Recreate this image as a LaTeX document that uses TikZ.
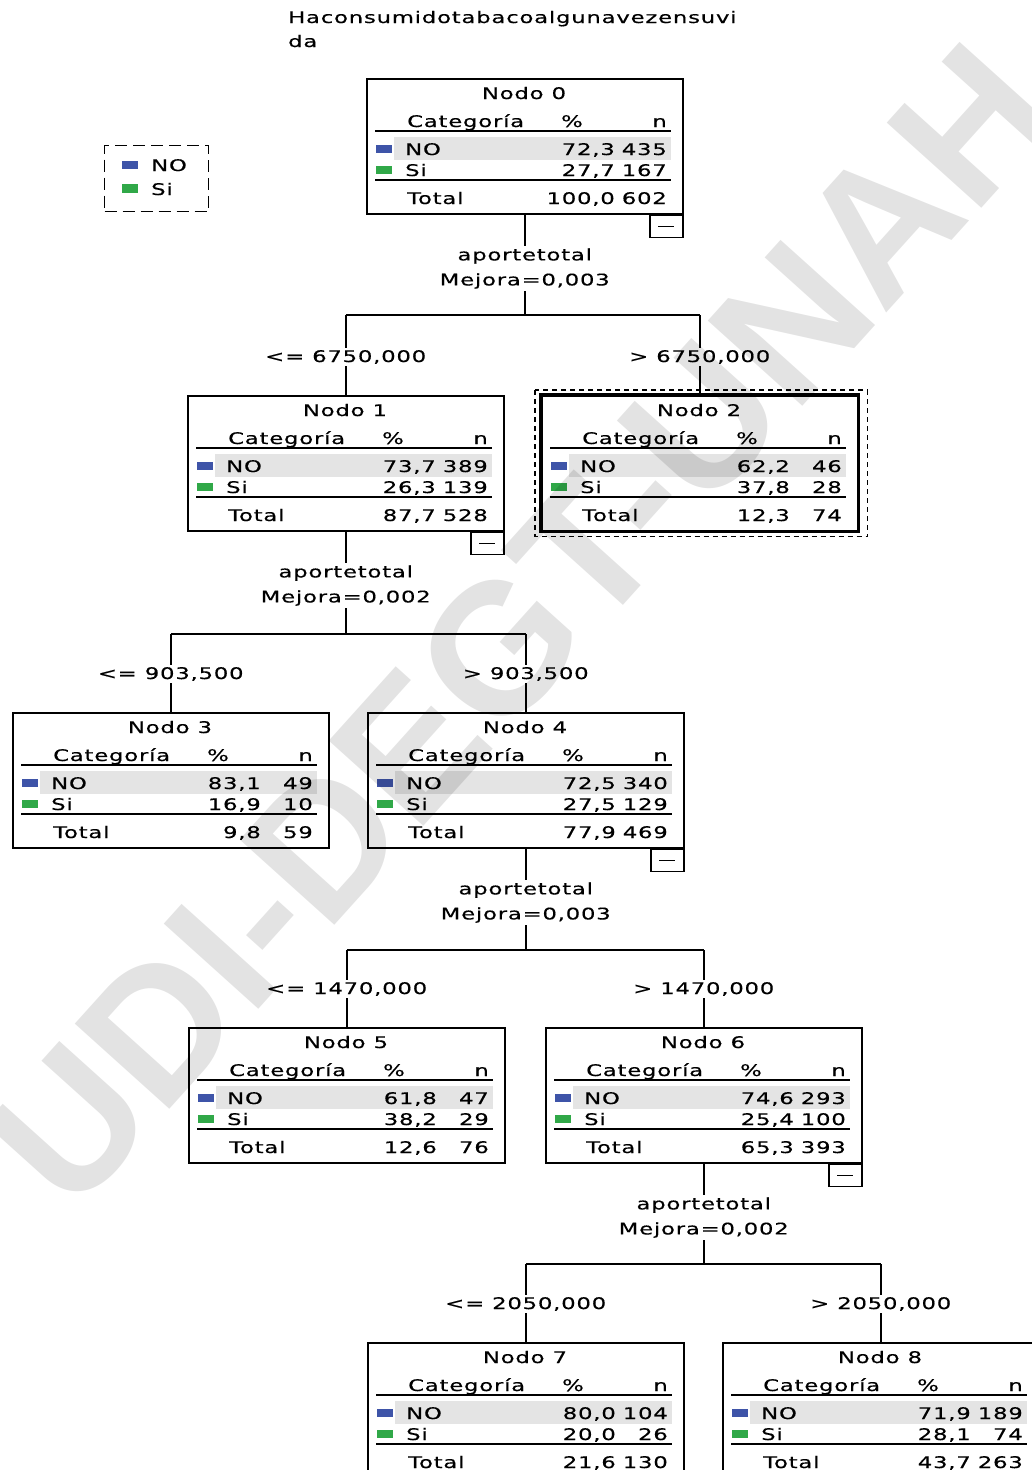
\documentclass[tikz,border=0pt]{standalone}
\usepackage{fontspec}
\setmainfont{DejaVu Sans}[FakeStretch=1.42,LetterSpace=5,FakeBold=0.4]
\newfontfamily\wmfont{Liberation Sans}
\definecolor{spssblue}{RGB}{62,84,168}
\definecolor{spssgreen}{RGB}{48,168,72}
\definecolor{rowgray}{RGB}{228,228,228}
\tikzset{
  txt/.style={inner sep=0pt,font=\fontsize{16}{19}\selectfont},
  boxstyle/.style={draw,line width=1.5pt,minimum width=316pt,minimum height=135pt,inner sep=0pt,anchor=north west},
  rulel/.style={line width=1.3pt},
  conn/.style={line width=1.5pt},
  lbl/.style={txt,fill=white,inner sep=2pt},
  splitlbl/.style={fill=white,inner sep=2pt,align=center,font=\fontsize{16}{25}\selectfont},
  collapse/.style={draw,line width=1.5pt,minimum width=33pt,minimum height=22pt,inner sep=0pt,anchor=north east},
}
\newcommand\treebox[9]{%
  \node[boxstyle] (#1) at #2 {};
  \begin{scope}[shift={#2}]
    \fill[rowgray] (28,59) rectangle (305,82);
    \node[txt,anchor=base] (#1t) at (158,21) {Nodo #3};
    \node[txt,anchor=base west] (#1h) at (41,49) {Categoría};
    \node[txt,anchor=base] (#1p) at (206,49) {\%};
    \node[txt,anchor=base east] (#1n) at (301,49) {n};
    \draw[rulel] (9,53) -- (305,53);
    \fill[spssblue] (10,67) rectangle (26,75);
    \node[txt,anchor=base west] (#1a) at (39,77) {NO};
    \node[txt,anchor=base east] (#1ap) at (249,77) {#4};
    \node[txt,anchor=base east] (#1an) at (301,77) {#5};
    \fill[spssgreen] (10,88) rectangle (26,96);
    \node[txt,anchor=base west] (#1b) at (39,98) {Si};
    \node[txt,anchor=base east] (#1bp) at (249,98) {#6};
    \node[txt,anchor=base east] (#1bn) at (301,98) {#7};
    \draw[rulel] (9,102) -- (305,102);
    \node[txt,anchor=base west] (#1c) at (41,126) {Total};
    \node[txt,anchor=base east] (#1cp) at (249,126) {#8};
    \node[txt,anchor=base east] (#1cn) at (301,126) {#9};
  \end{scope}}
\newcommand\collapsebox[1]{%
  \node[collapse] (#1x) at (#1.south east) {};
  \draw[rulel] ([xshift=-8pt]#1x.center) -- ([xshift=8pt]#1x.center);}
\begin{document}
\begin{tikzpicture}[x=1pt,y=-1pt]
\useasboundingbox (0,0) rectangle (1032,1470);
\clip (0,0) rectangle (1032,1470);
\fill[white] (0,0) rectangle (1032,1470);

% title
\node[txt,anchor=base west] (title1) at (288,23) {Haconsumidotabacoalgunavezensuvi};
\node[txt,anchor=base west] (title2) at (288,47) {da};

% legend
\node[draw,line width=1.4pt,dash pattern=on 12pt off 6pt,minimum width=104pt,minimum height=66pt,inner sep=0pt,anchor=north west] (legend) at (104,145) {};
\fill[spssblue] (122,161) rectangle (138,169);
\node[txt,anchor=base west] (legno) at (151,171) {NO};
\fill[spssgreen] (122,184) rectangle (138,193);
\node[txt,anchor=base west] (legsi) at (151,195) {Si};

% junction levels
\coordinate (j0) at (0,315);
\coordinate (j1) at (0,634);
\coordinate (j4) at (0,950);
\coordinate (j6) at (0,1264);

% boxes
\treebox{n0}{(366,78)}{0}{72,3}{435}{27,7}{167}{100,0}{602}
\treebox{n1}{(187,395)}{1}{73,7}{389}{26,3}{139}{87,7}{528}
\treebox{n2}{(541,395)}{2}{62,2}{46}{37,8}{28}{12,3}{74}
\treebox{n3}{(12,712)}{3}{83,1}{49}{16,9}{10}{9,8}{59}
\treebox{n4}{(367,712)}{4}{72,5}{340}{27,5}{129}{77,9}{469}
\treebox{n5}{(188,1027)}{5}{61,8}{47}{38,2}{29}{12,6}{76}
\treebox{n6}{(545,1027)}{6}{74,6}{293}{25,4}{100}{65,3}{393}
\treebox{n7}{(367,1342)}{7}{80,0}{104}{20,0}{26}{21,6}{130}
\treebox{n8}{(722,1342)}{8}{71,9}{189}{28,1}{74}{43,7}{263}
\collapsebox{n0}
\collapsebox{n1}
\collapsebox{n4}
\collapsebox{n6}

% selected node 2
\draw[line width=3.5pt] (n2.north west) rectangle (n2.south east);
\draw[line width=1.3pt,dash pattern=on 5pt off 4pt] ([shift={(-6,-5)}]n2.north west) rectangle ([shift={(9,5)}]n2.south east);

% split 0
\draw[conn] (n0.south) -- (n0.south |- j0);
\draw[conn] (n1.north |- j0) -- (n2.north |- j0);
\draw[conn] (n1.north |- j0) -- (n1.north);
\draw[conn] (n2.north |- j0) -- (n2.north);
\node[splitlbl] (s0) at ([yshift=-54pt]n0.south) {aportetotal\\Mejora=0,003};
\node[lbl] (e1) at ([yshift=38pt]n1.north) {<= 6750,000};
\node[lbl] (e2) at ([yshift=38pt]n2.north) {> 6750,000};

% split 1
\draw[conn] (n1.south) -- (n1.south |- j1);
\draw[conn] (n3.north |- j1) -- (n4.north |- j1);
\draw[conn] (n3.north |- j1) -- (n3.north);
\draw[conn] (n4.north |- j1) -- (n4.north);
\node[splitlbl] (s1) at ([yshift=-54pt]n1.south) {aportetotal\\Mejora=0,002};
\node[lbl] (e3) at ([yshift=38pt]n3.north) {<= 903,500};
\node[lbl] (e4) at ([yshift=38pt]n4.north) {> 903,500};

% split 4
\draw[conn] (n4.south) -- (n4.south |- j4);
\draw[conn] (n5.north |- j4) -- (n6.north |- j4);
\draw[conn] (n5.north |- j4) -- (n5.north);
\draw[conn] (n6.north |- j4) -- (n6.north);
\node[splitlbl] (s4) at ([yshift=-54pt]n4.south) {aportetotal\\Mejora=0,003};
\node[lbl] (e5) at ([yshift=38pt]n5.north) {<= 1470,000};
\node[lbl] (e6) at ([yshift=38pt]n6.north) {> 1470,000};

% split 6
\draw[conn] (n6.south) -- (n6.south |- j6);
\draw[conn] (n7.north |- j6) -- (n8.north |- j6);
\draw[conn] (n7.north |- j6) -- (n7.north);
\draw[conn] (n8.north |- j6) -- (n8.north);
\node[splitlbl] (s6) at ([yshift=-54pt]n6.south) {aportetotal\\Mejora=0,002};
\node[lbl] (e7) at ([yshift=38pt]n7.north) {<= 2050,000};
\node[lbl] (e8) at ([yshift=38pt]n8.north) {> 2050,000};

% watermark
\node[font=\wmfont\bfseries\fontsize{185}{185}\selectfont,text=black,text opacity=0.11,rotate=48] (wm) at (520,625) {UDI-DEGT-UNAH};
\end{tikzpicture}
\end{document}
